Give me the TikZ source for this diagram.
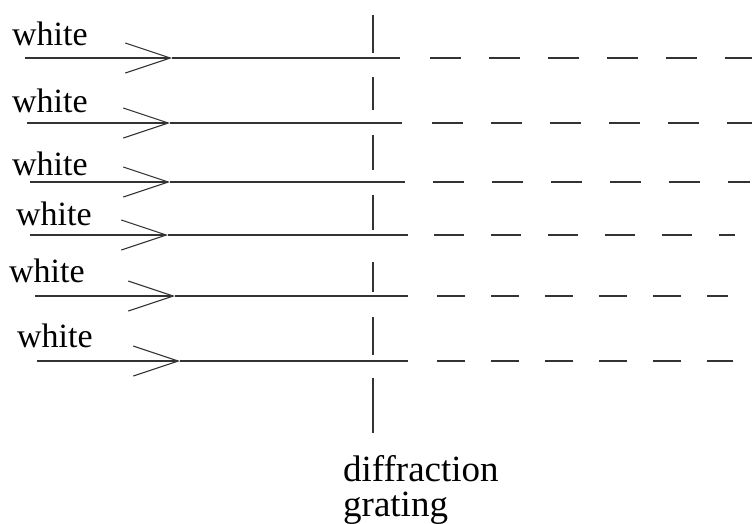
\documentclass[tikz,border=0pt]{standalone}
\usepackage{fontspec}
\setmainfont{Liberation Serif}
\usepackage{tikz}
\usetikzlibrary{arrows.meta}

\begin{document}
\begin{tikzpicture}[x=1pt, y=1pt, >={Straight Barb[length=45pt, width=30pt]},
  ray/.style={line width=1.1pt, draw=black!80},
  lbl/.style={font=\fontsize{34}{38}\selectfont, inner sep=0pt, anchor=base west},
  gratlbl/.style={font=\fontsize{37}{40}\selectfont, inner sep=0pt, anchor=base west}]
  \useasboundingbox (0,0) rectangle (752,-523);
  % incoming white light, one ray per row
  \foreach \i/\y/\xs/\xt/\xe/\xd/\xf/\lx/\ly/\don/\doff in {
      1/58/25/172/400/430/752/12/45/31/28,
      2/123/27/170/402/432/752/12/112/31/28,
      3/182/30/170/405/433/750/12/175/31/28,
      4/235/30/168/408/434/735/16/225/30/27,
      5/296/35/175/408/437/728/9/282/28/26,
      6/361/37/180/408/437/733/17/347/28/26} {
    \node[lbl] (w\i) at (\lx,-\ly) {white};
    \coordinate (s\i) at (\xs,-\y);
    \coordinate (t\i) at (\xt,-\y);
    \coordinate (e\i) at (\xe,-\y);
    \coordinate (d\i) at (\xd,-\y);
    \coordinate (f\i) at (\xf,-\y);
    \draw[ray,->] (s\i) -- (t\i);
    \draw[ray] (t\i) -- (e\i);
    \draw[ray, dash pattern=on \don pt off \doff pt] (d\i) -- (f\i);
  }
  % the grating
  \foreach \a/\b in {15/53, 77/110, 135/170, 195/230, 262/292, 317/355, 378/433}
    \draw[ray] (373,-\a) -- (373,-\b);
  \node[gratlbl] (diff) at (343,-481) {diffraction};
  \node[gratlbl] (grat) at (343,-516) {grating};
\end{tikzpicture}
\end{document}
